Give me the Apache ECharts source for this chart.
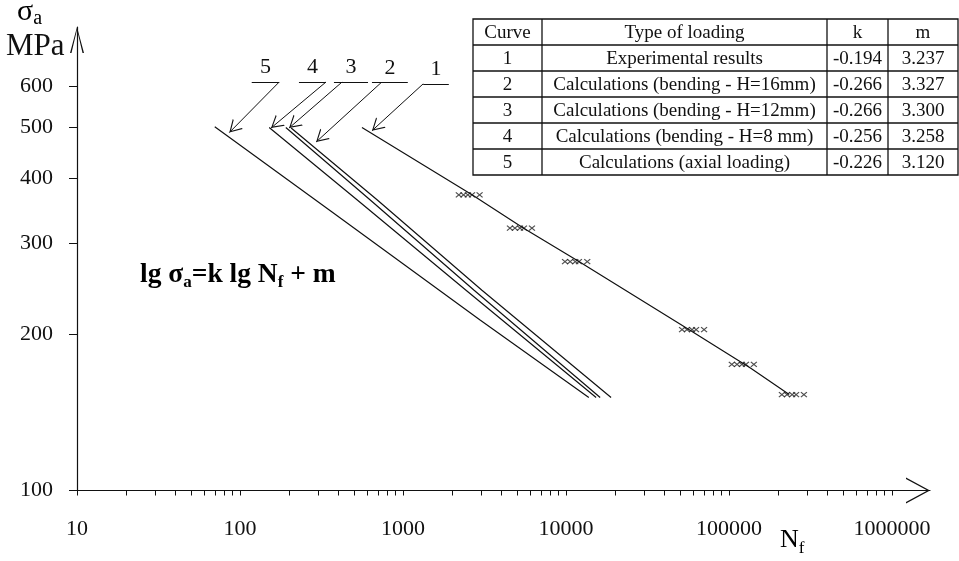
<!DOCTYPE html>
<html>
<head>
<meta charset="utf-8">
<script src="https://cdn.jsdelivr.net/npm/echarts@6/dist/echarts.min.js"></script>
<style>
  html, body { margin: 0; padding: 0; background: #fff; }
  #chart { width: 959px; height: 561px; }
</style>
</head>
<body>
<div id="chart"></div>
<script>
// curves: number of cycles N_f and stress amplitude (MPa)
const curve1N = [560, 2650, 5500, 12000, 57000, 136000, 234000]
const curve1S = [500, 371, 320, 276, 204, 172, 153]
const curve2N = [206, 693, 3050, 18900]
const curve2S = [499, 363, 243, 151]
const curve3N = [191, 627, 2730, 16200]
const curve3S = [500, 363, 243, 151]
const curve4N = [151, 522, 2435, 15300]
const curve4S = [500, 363, 243, 151]
const curve5N = [70, 367, 2970, 13800]
const curve5S = [502, 344, 213, 151]

// experimental results (crosses), one row per stress level
const expStress = [371, 320, 276, 204, 175, 153]
const expCycles = [
  [2200, 2350, 2500, 2650, 2950],
  [4530, 4860, 5220, 5520, 6180],
  [9860, 10600, 11400, 12000, 13500],
  [51500, 55200, 59300, 62800, 70300],
  [104000, 112000, 120000, 127000, 142000],
  [211000, 227000, 244000, 258000, 288000]
]

// table
const curveIds = ['1', '2', '3', '4', '5']
const loadTypes = [
  'Experimental results',
  'Calculations (bending - H=16mm)',
  'Calculations (bending - H=12mm)',
  'Calculations (bending - H=8 mm)',
  'Calculations (axial loading)'
]
const kValues = ['-0.194', '-0.266', '-0.266', '-0.256', '-0.226']
const mValues = ['3.237', '3.327', '3.300', '3.258', '3.120']

// axis ticks
const yTicks = [100, 200, 300, 400, 500, 600]
const xLabels = [10, 100, 1000, 10000, 100000, 1000000]

// leader lines to the curve numbers, in data units [N, MPa]
const leaderBar = [[1330, 1910, 607], [645, 1070, 610], [377, 610, 612], [230, 337, 612], [118, 174, 612]]
const leaderFrom = [[1330, 607], [733, 610], [423, 612], [337, 612], [174, 612]]
const leaderTip = [[645, 493], [293, 469], [200, 499], [155, 499], [86, 489]]

const serif = '"Liberation Serif", "DejaVu Serif", serif'
const ink = '#111'

// open chevrons, tip in the middle of the box so it lands on the end point
const xArrow = 'path://M13,0L13,0.01M13,24L26,48L24.4,48L13,26.6L1.6,48L0,48Z'
const yArrow = 'path://M7,0L7,0.01M7,26L14,52L12.5,52L7,28.8L1.5,52L0,52Z'
const leaderArrow = 'path://M7,0L7,0.01M7,12L14,24L12.7,24L7,14.2L1.3,24L0,24Z'
const cross = 'path://M0,0L10,10M10,0L0,10'

const xTickValues = []
xLabels.forEach(d => {
  for (let k = 1; k <= 9; k++) {
    if (d * k <= 1000000) xTickValues.push(d * k)
  }
})

const curves = [
  [curve1N, curve1S], [curve2N, curve2S], [curve3N, curve3S], [curve4N, curve4S], [curve5N, curve5S]
]

const leaderMarks = (i) => {
  const bar = leaderBar[i]
  return {
    silent: true,
    symbol: ['none', 'none'],
    lineStyle: { color: ink, width: 1, type: 'solid' },
    label: { show: false },
    emphasis: { disabled: true },
    data: [
      [
        {
          coord: [bar[0], bar[2]],
          label: {
            show: true, formatter: curveIds[i], position: 'insideMiddleTop', distance: 4,
            fontFamily: serif, fontSize: 22, color: ink
          }
        },
        { coord: [bar[1], bar[2]] }
      ],
      [
        { coord: leaderFrom[i] },
        { coord: leaderTip[i], symbol: leaderArrow, symbolSize: [14, 24] }
      ]
    ]
  }
}

const series = curves.map((c, i) => ({
  type: 'line',
  data: c[0].map((n, j) => [n, c[1][j]]),
  symbol: 'none',
  silent: true,
  lineStyle: { color: ink, width: 1.2 },
  markLine: leaderMarks(i)
}))

const expPoints = []
expCycles.forEach((row, i) => row.forEach(n => expPoints.push([n, expStress[i]])))
series.push({
  type: 'scatter',
  data: expPoints,
  symbol: cross,
  symbolSize: [6, 5],
  silent: true,
  itemStyle: { color: 'rgba(0,0,0,0)', borderColor: '#222', borderWidth: 1.1 }
})

// table built with graphic elements
const colX = [473, 542, 827, 888, 958]
const rowY0 = 19
const rowH = 26
const tableRows = [['Curve', 'Type of loading', 'k', 'm']]
curveIds.forEach((id, i) => tableRows.push([id, loadTypes[i], kValues[i], mValues[i]]))

const tableEls = [{
  type: 'rect',
  shape: { x: colX[0], y: rowY0, width: colX[4] - colX[0], height: rowH * tableRows.length },
  style: { fill: null, stroke: ink, lineWidth: 1.3 }
}]
for (let r = 1; r < tableRows.length; r++) {
  tableEls.push({
    type: 'line',
    shape: { x1: colX[0], y1: rowY0 + r * rowH, x2: colX[4], y2: rowY0 + r * rowH },
    style: { stroke: ink, lineWidth: 1.3 }
  })
}
for (let c = 1; c < 4; c++) {
  tableEls.push({
    type: 'line',
    shape: { x1: colX[c], y1: rowY0, x2: colX[c], y2: rowY0 + rowH * tableRows.length },
    style: { stroke: ink, lineWidth: 1.3 }
  })
}
tableRows.forEach((row, r) => {
  row.forEach((txt, c) => {
    tableEls.push({
      type: 'text',
      x: (colX[c] + colX[c + 1]) / 2,
      y: rowY0 + r * rowH + rowH / 2 + 1,
      style: {
        text: txt, align: 'center', verticalAlign: 'middle',
        fontFamily: serif, fontSize: 19, fill: ink
      }
    })
  })
})

const richText = (size, subSize, lineH, subH, bold) => ({
  b: { fontFamily: serif, fontSize: size, fontWeight: bold ? 'bold' : 'normal', color: ink, lineHeight: lineH },
  s: { fontFamily: serif, fontSize: subSize, fontWeight: bold ? 'bold' : 'normal', color: ink, lineHeight: subH, verticalAlign: 'bottom' }
})

const chart = echarts.init(document.getElementById('chart'))

chart.setOption({
  animation: false,
  backgroundColor: '#fff',
  grid: { left: 77, right: 29, top: 27, bottom: 70.5, containLabel: false, outerBoundsMode: 'none' },
  xAxis: {
    type: 'log',
    logBase: 10,
    min: 10,
    max: 1710000,
    axisLine: {
      show: true, onZero: false,
      symbol: ['none', xArrow], symbolSize: [26, 48],
      lineStyle: { color: ink, width: 1.2 }
    },
    axisTick: { show: true, customValues: xTickValues, length: 5, lineStyle: { color: ink, width: 1 } },
    minorTick: { show: false },
    axisLabel: {
      customValues: xLabels, margin: 28, fontFamily: serif, fontSize: 22, color: ink,
      formatter: v => String(Math.round(v))
    },
    splitLine: { show: false }
  },
  yAxis: {
    type: 'log',
    logBase: 10,
    min: 100,
    max: 781,
    axisLine: {
      show: true,
      symbol: ['none', yArrow], symbolSize: [14, 52],
      lineStyle: { color: ink, width: 1.2 }
    },
    axisTick: { show: true, customValues: yTicks, length: 8, lineStyle: { color: ink, width: 1 } },
    minorTick: { show: false },
    axisLabel: {
      customValues: yTicks, margin: 24, fontFamily: serif, fontSize: 22, color: ink,
      formatter: v => String(Math.round(v))
    },
    splitLine: { show: false }
  },
  series: series,
  graphic: [
    {
      type: 'text', x: 17, y: -5,
      style: { text: '{b|σ}{s|a}', rich: richText(30, 20, 34, 17, false), verticalAlign: 'top' }
    },
    {
      type: 'text', x: 6, y: 46.5,
      style: { text: 'MPa', fontFamily: serif, fontSize: 31, fill: ink, verticalAlign: 'middle' }
    },
    {
      type: 'text', x: 780, y: 523,
      style: { text: '{b|N}{s|f}', rich: richText(26, 17, 34, 16, false), verticalAlign: 'top' }
    },
    {
      type: 'text', x: 140, y: 258,
      style: { text: '{b|lg σ}{s|a}{b|=k lg N}{s|f}{b| + m}', rich: richText(27.5, 17, 33, 16, true), verticalAlign: 'top' }
    },
    { type: 'group', children: tableEls }
  ]
})

window.addEventListener('resize', () => chart.resize())
</script>
</body>
</html>
